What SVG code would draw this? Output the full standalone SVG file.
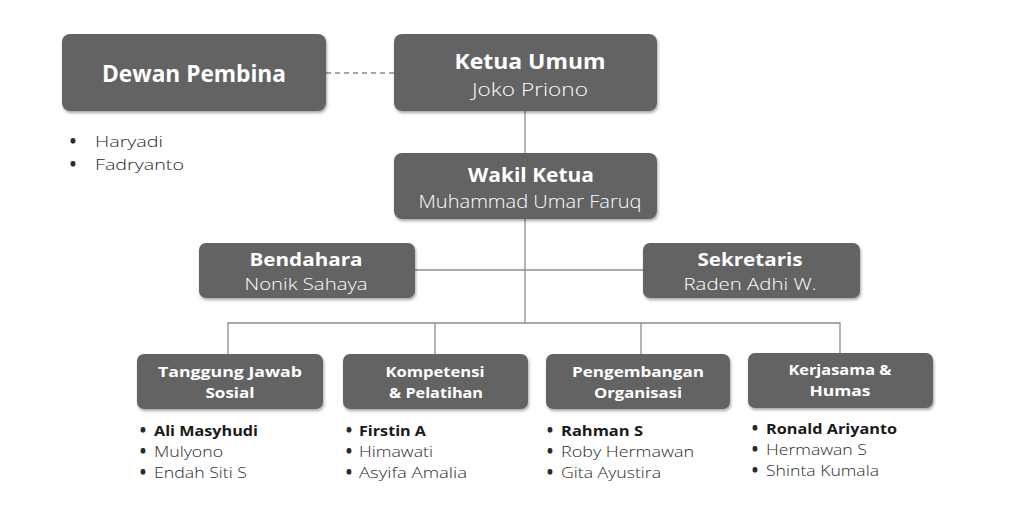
<svg xmlns="http://www.w3.org/2000/svg" width="1024" height="512" viewBox="0 0 1024 512">
<defs>
<filter id="sh" x="-10%" y="-10%" width="120%" height="130%">
<feDropShadow dx="1" dy="2" stdDeviation="1.5" flood-color="#000" flood-opacity="0.35"/>
</filter>
<style>
.box{fill:#636363;filter:url(#sh)}
.t{font-family:"Open Sans",Lato,sans-serif;fill:#fff;text-anchor:middle}
.b{font-weight:700}
.n{font-weight:300}
.ln{stroke:#8c8c8c;stroke-width:1.3;fill:none}
.li{font-family:"Open Sans",Lato,sans-serif;fill:#2a2a2a;font-size:15px}
.bu{font-weight:800;fill:#2a2a2a}
.lb{font-weight:700;fill:#1a1a1a}
.lr{font-weight:300}
</style>
</defs>
<rect width="1024" height="512" fill="#fff"/>
<g id="connectors">
<line class="ln" x1="326" y1="73" x2="394" y2="73" stroke-dasharray="5,4"/>
<line class="ln" x1="525" y1="111" x2="525" y2="153"/>
<line class="ln" x1="525" y1="219" x2="525" y2="323"/>
<line class="ln" x1="415" y1="270" x2="643" y2="270"/>
<polyline class="ln" points="228,354 228,323 840,323 840,353"/>
<line class="ln" x1="435" y1="323" x2="435" y2="354"/>
<line class="ln" x1="641" y1="323" x2="641" y2="354"/>
</g>
<g id="dewan">
<rect class="box" x="62" y="34" width="264" height="77" rx="8"/>
<text class="t b" x="194" y="82" font-size="24" textLength="184" lengthAdjust="spacingAndGlyphs">Dewan Pembina</text>
</g>
<g id="dewan-list">
<text class="li bu" x="70" y="147" font-size="16.5">•</text><text class="li lr" x="95" y="147" font-size="16.5" textLength="68" lengthAdjust="spacingAndGlyphs">Haryadi</text>
<text class="li bu" x="70" y="170" font-size="16.5">•</text><text class="li lr" x="95" y="170" font-size="16.5" textLength="89" lengthAdjust="spacingAndGlyphs">Fadryanto</text>
</g>
<g id="ketua">
<rect class="box" x="394" y="34" width="263" height="77" rx="8"/>
<text class="t b" x="530" y="69" font-size="22" textLength="151" lengthAdjust="spacingAndGlyphs">Ketua Umum</text>
<text class="t n" x="530" y="96" font-size="19" textLength="116" lengthAdjust="spacingAndGlyphs">Joko Priono</text>
</g>
<g id="wakil">
<rect class="box" x="394" y="153" width="263" height="66" rx="8"/>
<text class="t b" x="531" y="182" font-size="19.5" textLength="126" lengthAdjust="spacingAndGlyphs">Wakil Ketua</text>
<text class="t n" x="530" y="208" font-size="18.5" textLength="223" lengthAdjust="spacingAndGlyphs">Muhammad Umar Faruq</text>
</g>
<g id="bendahara">
<rect class="box" x="199" y="243" width="216" height="55" rx="7"/>
<text class="t b" x="306" y="266" font-size="18" textLength="113" lengthAdjust="spacingAndGlyphs">Bendahara</text>
<text class="t n" x="306" y="290" font-size="17" textLength="123" lengthAdjust="spacingAndGlyphs">Nonik Sahaya</text>
</g>
<g id="sekretaris">
<rect class="box" x="643" y="243" width="217" height="55" rx="7"/>
<text class="t b" x="750" y="266" font-size="18" textLength="105" lengthAdjust="spacingAndGlyphs">Sekretaris</text>
<text class="t n" x="750" y="290" font-size="17" textLength="133" lengthAdjust="spacingAndGlyphs">Raden Adhi W.</text>
</g>
<g id="tjs">
<rect class="box" x="137" y="354" width="186" height="55" rx="7"/>
<text class="t b" x="230" y="377" font-size="15" textLength="144" lengthAdjust="spacingAndGlyphs">Tanggung Jawab</text>
<text class="t b" x="230" y="398" font-size="15" textLength="49" lengthAdjust="spacingAndGlyphs">Sosial</text>
</g>
<g id="tjs-list">
<text class="li bu" x="140" y="436">•</text><text class="li lb" x="154" y="436" textLength="104" lengthAdjust="spacingAndGlyphs">Ali Masyhudi</text>
<text class="li bu" x="140" y="457">•</text><text class="li lr" x="154" y="457" textLength="69" lengthAdjust="spacingAndGlyphs">Mulyono</text>
<text class="li bu" x="140" y="478">•</text><text class="li lr" x="154" y="478" textLength="93" lengthAdjust="spacingAndGlyphs">Endah Siti S</text>
</g>
<g id="kompetensi">
<rect class="box" x="343" y="354" width="185" height="55" rx="7"/>
<text class="t b" x="435" y="377" font-size="15" textLength="99" lengthAdjust="spacingAndGlyphs">Kompetensi</text>
<text class="t b" x="436" y="398" font-size="15" textLength="94" lengthAdjust="spacingAndGlyphs">&amp; Pelatihan</text>
</g>
<g id="kompetensi-list">
<text class="li bu" x="346" y="436">•</text><text class="li lb" x="359" y="436" textLength="67" lengthAdjust="spacingAndGlyphs">Firstin A</text>
<text class="li bu" x="346" y="457">•</text><text class="li lr" x="359" y="457" textLength="74" lengthAdjust="spacingAndGlyphs">Himawati</text>
<text class="li bu" x="346" y="478">•</text><text class="li lr" x="359" y="478" textLength="108" lengthAdjust="spacingAndGlyphs">Asyifa Amalia</text>
</g>
<g id="pengembangan">
<rect class="box" x="546" y="354" width="184" height="55" rx="7"/>
<text class="t b" x="638" y="377" font-size="15" textLength="132" lengthAdjust="spacingAndGlyphs">Pengembangan</text>
<text class="t b" x="638" y="398" font-size="15" textLength="88" lengthAdjust="spacingAndGlyphs">Organisasi</text>
</g>
<g id="pengembangan-list">
<text class="li bu" x="547" y="436">•</text><text class="li lb" x="561" y="436" textLength="82" lengthAdjust="spacingAndGlyphs">Rahman S</text>
<text class="li bu" x="547" y="457">•</text><text class="li lr" x="561" y="457" textLength="133" lengthAdjust="spacingAndGlyphs">Roby Hermawan</text>
<text class="li bu" x="547" y="478">•</text><text class="li lr" x="561" y="478" textLength="100" lengthAdjust="spacingAndGlyphs">Gita Ayustira</text>
</g>
<g id="kerjasama">
<rect class="box" x="748" y="353" width="185" height="55" rx="7"/>
<text class="t b" x="840" y="375" font-size="15" textLength="103" lengthAdjust="spacingAndGlyphs">Kerjasama &amp;</text>
<text class="t b" x="840" y="396" font-size="15" textLength="61" lengthAdjust="spacingAndGlyphs">Humas</text>
</g>
<g id="kerjasama-list">
<text class="li bu" x="752" y="434">•</text><text class="li lb" x="766" y="434" textLength="131" lengthAdjust="spacingAndGlyphs">Ronald Ariyanto</text>
<text class="li bu" x="752" y="455">•</text><text class="li lr" x="766" y="455" textLength="101" lengthAdjust="spacingAndGlyphs">Hermawan S</text>
<text class="li bu" x="752" y="476">•</text><text class="li lr" x="766" y="476" textLength="113" lengthAdjust="spacingAndGlyphs">Shinta Kumala</text>
</g>
</svg>
